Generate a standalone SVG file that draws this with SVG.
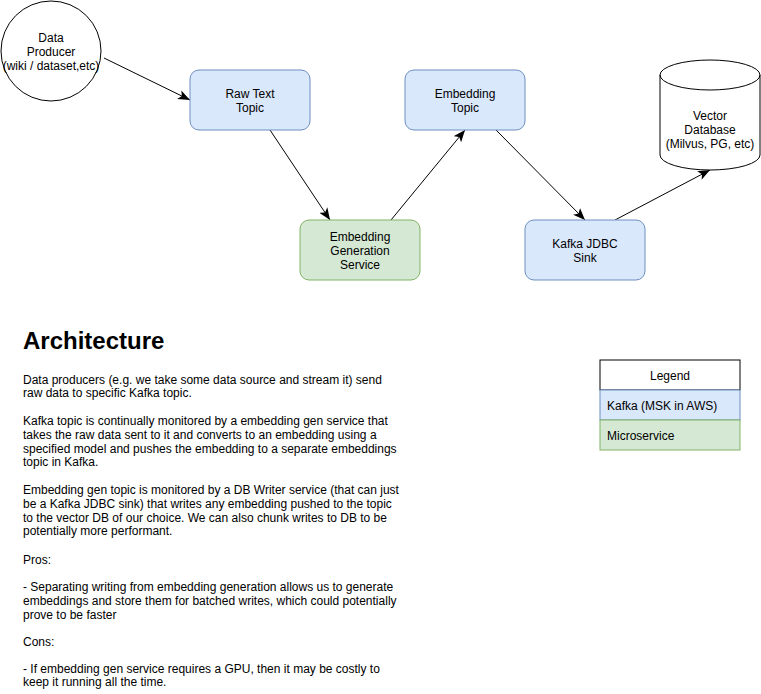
<svg xmlns="http://www.w3.org/2000/svg" width="761" height="694" viewBox="0 0 761 694">
  <defs>
    <marker id="arrow" markerUnits="userSpaceOnUse" markerWidth="12" markerHeight="10" viewBox="0 0 10 8" refX="10" refY="4" orient="auto">
      <path d="M0,0 L10,4 L0,8 L2.5,4 z" fill="#000"/>
    </marker>
    <style>
      text { font-family: "Liberation Sans", Arial, Helvetica, sans-serif; font-size: 12px; fill: #000; }
      .c { text-anchor: middle; }
      .kafka { fill: #dae8fc; stroke: #6c8ebf; stroke-width: 1; }
      .svc { fill: #d5e8d4; stroke: #82b366; stroke-width: 1; }
      .edge { fill: none; stroke: #000; stroke-width: 1; marker-end: url(#arrow); }
      .plain { fill: #fff; stroke: #000; stroke-width: 1; }
      .h1 { font-size: 24px; font-weight: bold; }
    </style>
  </defs>
  <rect width="761" height="694" fill="#fff"/>

  <!-- connectors -->
  <g id="edges">
    <line class="edge" x1="104" y1="58" x2="190" y2="100"/>
    <line class="edge" x1="270" y1="130" x2="330" y2="220"/>
    <line class="edge" x1="391" y1="220" x2="465" y2="130"/>
    <line class="edge" x1="496" y1="130" x2="585" y2="220"/>
    <line class="edge" x1="615" y1="220" x2="710" y2="170"/>
  </g>

  <g id="data-producer">
    <circle class="plain" cx="51" cy="51" r="50"/>
    <text class="c" x="51" y="41.5">Data</text>
    <text class="c" x="51" y="55.5">Producer</text>
    <text class="c" x="51" y="69.5">(wiki / dataset,etc)</text>
  </g>

  <g id="raw-text-topic">
    <rect class="kafka" x="190" y="70" width="120" height="60" rx="9"/>
    <text class="c" x="250" y="97.5">Raw Text</text>
    <text class="c" x="250" y="111.5">Topic</text>
  </g>

  <g id="embedding-topic">
    <rect class="kafka" x="405" y="70" width="120" height="60" rx="9"/>
    <text class="c" x="465" y="97.5">Embedding</text>
    <text class="c" x="465" y="111.5">Topic</text>
  </g>

  <g id="embedding-generation-service">
    <rect class="svc" x="300" y="220" width="120" height="60" rx="9"/>
    <text class="c" x="360" y="241">Embedding</text>
    <text class="c" x="360" y="255">Generation</text>
    <text class="c" x="360" y="269">Service</text>
  </g>

  <g id="kafka-jdbc-sink">
    <rect class="kafka" x="525" y="220" width="120" height="60" rx="9"/>
    <text class="c" x="585" y="247.5">Kafka JDBC</text>
    <text class="c" x="585" y="261.5">Sink</text>
  </g>

  <g id="vector-database">
    <path class="plain" d="M660,75 A50,15 0 0 1 760,75 L760,155 A50,15 0 0 1 660,155 Z"/>
    <path fill="none" stroke="#000" d="M660,75 A50,15 0 0 0 760,75"/>
    <text class="c" x="710" y="119.5">Vector</text>
    <text class="c" x="710" y="133.5">Database</text>
    <text class="c" x="710" y="148">(Milvus, PG, etc)</text>
  </g>

  <g id="description">
    <text class="h1" x="23" y="349">Architecture</text>
    <text x="23" y="383.5">Data producers (e.g. we take some data source and stream it) send</text>
    <text x="23" y="397.3">raw data to specific Kafka topic.</text>
    <text x="23" y="425">Kafka topic is continually monitored by a embedding gen service that</text>
    <text x="23" y="438.8">takes the raw data sent to it and converts to an embedding using a</text>
    <text x="23" y="452.6">specified model and pushes the embedding to a separate embeddings</text>
    <text x="23" y="466.4">topic in Kafka.</text>
    <text x="23" y="494">Embedding gen topic is monitored by a DB Writer service (that can just</text>
    <text x="23" y="507.8">be a Kafka JDBC sink) that writes any embedding pushed to the topic</text>
    <text x="23" y="521.6">to the vector DB of our choice. We can also chunk writes to DB to be</text>
    <text x="23" y="535.4">potentially more performant.</text>
    <text x="23" y="563.5">Pros:</text>
    <text x="23" y="591">- Separating writing from embedding generation allows us to generate</text>
    <text x="23" y="604.8">embeddings and store them for batched writes, which could potentially</text>
    <text x="23" y="618.6">prove to be faster</text>
    <text x="23" y="645.5">Cons:</text>
    <text x="23" y="672.5">- If embedding gen service requires a GPU, then it may be costly to</text>
    <text x="23" y="686.3">keep it running all the time.</text>
  </g>

  <g id="legend">
    <rect class="plain" x="600" y="360" width="140" height="30"/>
    <text class="c" x="670" y="379.5">Legend</text>
    <rect class="kafka" x="600" y="390" width="140" height="30"/>
    <text x="607" y="409.5">Kafka (MSK in AWS)</text>
    <rect class="svc" x="600" y="420" width="140" height="30"/>
    <text x="607" y="439.5">Microservice</text>
  </g>
</svg>
